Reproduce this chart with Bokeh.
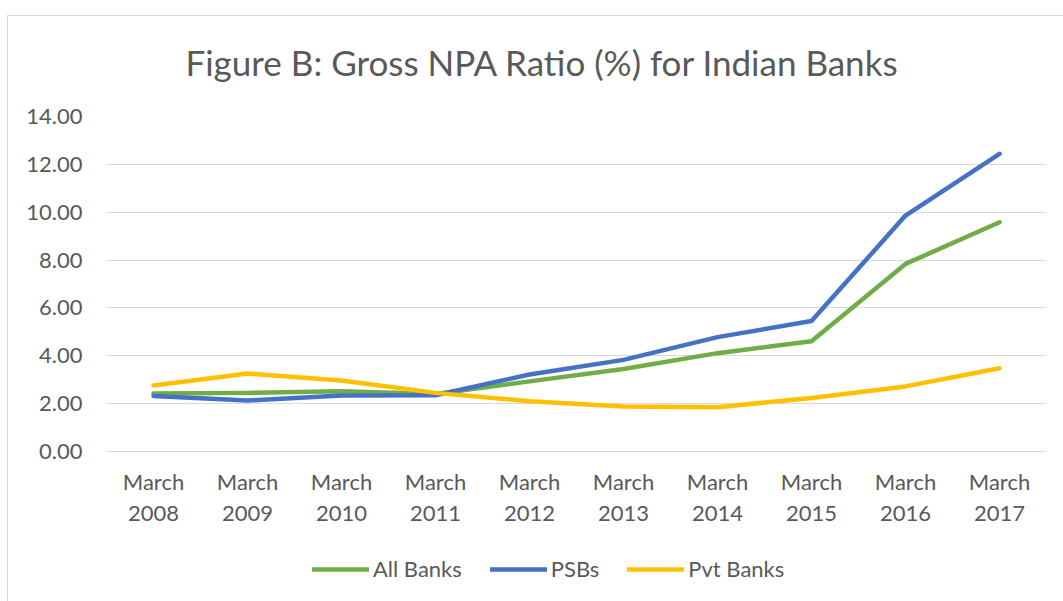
from bokeh.plotting import figure
from bokeh.models import (FactorRange, Range1d, FixedTicker, PrintfTickFormatter,
                          Legend, LegendItem)
from bokeh.embed import file_html
from bokeh.resources import INLINE

categories = ["March\n2008", "March\n2009", "March\n2010", "March\n2011", "March\n2012",
              "March\n2013", "March\n2014", "March\n2015", "March\n2016", "March\n2017"]
all_banks = [2.42, 2.45, 2.52, 2.40, 2.93, 3.45, 4.11, 4.61, 7.84, 9.58]
psbs = [2.32, 2.13, 2.34, 2.35, 3.22, 3.83, 4.78, 5.45, 9.86, 12.44]
pvt_banks = [2.76, 3.26, 2.97, 2.45, 2.10, 1.88, 1.85, 2.24, 2.72, 3.48]
y_ticks = [0, 2, 4, 6, 8, 10, 12, 14]
series_names = ["All Banks", "PSBs", "Pvt Banks"]
title_text = "Figure B: Gross NPA Ratio (%) for Indian Banks"

FONT = "Lato"
TXT = "#595959"
BORDER = "#D9D9D9"

# frame spans 116..593 px; value 0 sits at 451 px, 14 at 116 px
Y_TOP = 14
Y_BOTTOM = Y_TOP - (593 - 116) * 14 / (451 - 116)

p = figure(width=1063, height=601, output_backend="svg", toolbar_location=None,
           x_range=FactorRange(*categories), y_range=Range1d(Y_BOTTOM, Y_TOP),
           min_border_left=106, min_border_right=17, min_border_top=116,
           min_border_bottom=8)
p.outline_line_color = None
p.background_fill_color = "white"
p.border_fill_color = None
# light chart-area border (left and top edges), drawn behind the transparent canvas border
p.styles = {
    "background-color": "white",
    "background-image": f"linear-gradient({BORDER},{BORDER}), linear-gradient({BORDER},{BORDER})",
    "background-size": "1px 600px, 1060px 1px",
    "background-position": "7px 15px, 7px 15px",
    "background-repeat": "no-repeat",
}

p.title.text = title_text
p.title.align = "left"
p.title.offset = 79
p.title.standoff = 68
p.title.text_font = FONT
p.title.text_font_style = "normal"
p.title.text_font_size = "35px"
p.title.text_color = TXT

colors = ["#70AD47", "#4472C4", "#FFC000"]
renderers = []
for vals, col in zip([all_banks, psbs, pvt_banks], colors):
    r = p.line(categories, vals, line_color=col, line_width=4.5,
               line_join="round", line_cap="round")
    renderers.append(r)

p.xgrid.grid_line_color = None
p.ygrid.grid_line_color = "#D9D9D9"
p.ygrid.grid_line_width = 1.2
p.yaxis.ticker = FixedTicker(ticks=y_ticks)
p.yaxis.formatter = PrintfTickFormatter(format="%.2f")

for ax in (p.xaxis[0], p.yaxis[0]):
    ax.axis_line_color = None
    ax.major_tick_line_color = None
    ax.minor_tick_line_color = None
    ax.major_tick_out = 0
    ax.major_label_text_font = FONT
    ax.major_label_text_color = TXT
    ax.major_label_text_font_size = "22px"
p.yaxis.major_label_standoff = 24
p.xaxis.major_label_standoff = -126
p.xaxis.major_label_text_line_height = 1.15

legend = Legend(items=[LegendItem(label=n, renderers=[r]) for n, r in zip(series_names, renderers)],
                orientation="horizontal", location=(206, 11),
                glyph_width=57, glyph_height=20, label_standoff=4, spacing=28,
                padding=0, margin=0, border_line_color=None, background_fill_alpha=0,
                label_text_font=FONT, label_text_color=TXT, label_text_font_size="22px")
p.add_layout(legend)

open("out.html", "w").write(file_html(p, INLINE))
